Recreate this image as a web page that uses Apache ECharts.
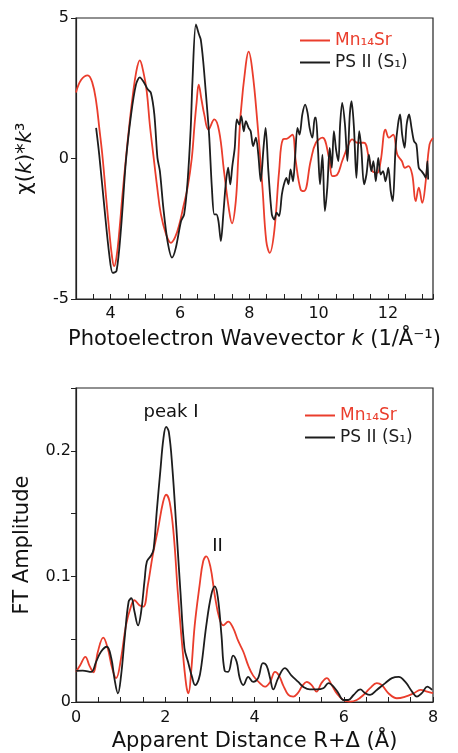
<!DOCTYPE html>
<html lang="en">

<head>
  <meta charset="UTF-8">
  <title>EXAFS Mn14Sr vs PS II</title>
  <style>
    html,body {
      width:100%;
      height:100%;
      margin: 0;
      background: #fff;
    }
  </style>
</head>

<body>
  <div id="chart" style="width:458px;height:753px"></div>
  <script src="https://cdn.jsdelivr.net/npm/echarts@6/dist/echarts.min.js"></script>
  <script>
    // top panel: k^3-weighted EXAFS
    var kRed = [3.00, 3.15, 3.34, 3.47, 3.58, 3.68, 3.77, 3.87, 3.96, 4.03, 4.10, 4.17, 4.25, 4.34, 4.44, 4.54, 4.63, 4.74, 4.84, 4.94,
      5.04, 5.13, 5.23, 5.34, 5.45, 5.60, 5.74, 5.86, 5.98, 6.10, 6.22, 6.34, 6.42, 6.48, 6.54, 6.62, 6.70, 6.82, 6.99, 7.13,
      7.27, 7.42, 7.50, 7.61, 7.68, 7.75, 7.90, 7.98, 8.09, 8.23, 8.38, 8.49, 8.59, 8.72, 8.86, 8.97, 9.10, 9.24, 9.34, 9.48,
      9.58, 9.77, 9.92, 10.11, 10.30, 10.40, 10.54, 10.68, 10.83, 10.97, 11.12, 11.31, 11.45, 11.55, 11.69, 11.79, 11.93, 12.03, 12.15, 12.27,
      12.40, 12.49, 12.59, 12.70, 12.80, 12.89, 12.99, 13.09, 13.20, 13.30];
    var chiRed = [2.35, 2.8, 2.96, 2.7, 2.04, 1.0, 0.0, -1.4, -2.59, -3.4, -3.83, -3.5, -2.59, -1.3, 0.0, 1.2, 2.16, 3.1, 3.49, 3.1,
      2.40, 1.2, 0.14, -1.0, -1.99, -2.7, -3.0, -2.8, -2.35, -1.7, -1.03, 0.0, 1.2, 2.0, 2.63, 2.1, 1.57, 1.03, 1.39, 0.97,
      -0.45, -1.87, -2.31, -1.52, 0.0, 1.57, 3.35, 3.80, 3.11, 1.33, -1.04, -2.94, -3.36, -2.59, -0.45, 0.68, 0.71, 0.85, -0.09, -1.10,
      -1.16, -0.09, 0.56, 0.74, 0.02, -0.63, -0.57, -0.09, 0.39, 0.68, 0.56, 0.56, 0.02, -0.45, -0.51, -0.09, 1.03, 0.74, 0.85, 0.14,
      -0.09, -0.33, -0.27, -0.57, -1.52, -1.04, -1.58, -0.81, 0.50, 0.74];

    var kBlack = [3.58, 3.67, 3.82, 3.96, 4.06, 4.17, 4.30, 4.44, 4.59, 4.73, 4.84, 4.97, 5.07, 5.16, 5.26, 5.35, 5.42, 5.52, 5.64, 5.77,
      5.88, 6.03, 6.12, 6.22, 6.31, 6.36, 6.46, 6.55, 6.60, 6.67, 6.75, 6.84, 6.92, 6.99, 7.05, 7.11, 7.18, 7.25, 7.32, 7.39,
      7.45, 7.51, 7.58, 7.64, 7.71, 7.77, 7.84, 7.90, 7.98, 8.04, 8.11, 8.19, 8.26, 8.33, 8.41, 8.47, 8.55, 8.65, 8.72, 8.79,
      8.86, 8.94, 9.00, 9.07, 9.13, 9.19, 9.26, 9.32, 9.39, 9.45, 9.53, 9.61, 9.68, 9.74, 9.82, 9.89, 9.92, 9.98, 10.04, 10.11,
      10.18, 10.25, 10.32, 10.38, 10.44, 10.51, 10.57, 10.62, 10.68, 10.76, 10.83, 10.90, 10.95, 11.02, 11.09, 11.17, 11.23, 11.31, 11.38, 11.45,
      11.52, 11.58, 11.65, 11.72, 11.79, 11.86, 11.93, 12.01, 12.08, 12.14, 12.22, 12.29, 12.35, 12.41, 12.48, 12.54, 12.61, 12.68, 12.75, 12.82,
      12.89, 12.97, 13.04, 13.09, 13.14, 13.16];
    var chiBlack = [1.09, 0.14, -1.76, -3.42, -4.07, -4.0, -2.47, -0.09, 1.57, 2.63, 2.89, 2.69, 2.46, 2.34, 1.57, 0.02, -0.45, -1.76, -2.94, -3.53,
      -3.18, -2.23, -1.99, -0.81, 1.09, 2.75, 4.77, 4.41, 4.23, 3.46, 2.28, 0.85, -1.04, -1.99, -1.99, -2.23, -2.94, -1.99, -0.92, -0.33,
      -0.92, -0.27, 0.38, 1.39, 1.21, 1.51, 0.97, 1.33, 1.09, 0.97, 0.44, 0.74, 0.14, -0.81, 0.38, 1.09, -0.45, -1.99, -2.17, -1.93,
      -2.05, -1.28, -0.92, -0.69, -0.92, -0.39, -0.81, 0.02, 1.09, 0.85, 1.57, 1.92, 1.63, 1.09, 0.74, 1.45, 1.45, 0.38, -0.92, 0.14,
      -1.87, -1.04, 0.38, -0.33, 0.97, 0.26, -0.09, 1.21, 1.98, 1.21, -0.09, 1.57, 2.04, 1.09, -0.69, 0.97, 0.38, -0.92, -0.57, 0.14,
      -0.45, -0.09, -0.81, 0.02, -0.57, -0.45, -0.81, -0.33, -1.16, -1.52, 0.38, 1.21, 1.57, 0.85, 0.38, 1.21, 1.57, 1.09, 0.62, 0.50,
      -0.33, -0.45, -0.57, -0.69, -0.09, -0.75];

    // bottom panel: Fourier transform
    var rRed = [0.00, 0.09, 0.21, 0.30, 0.39, 0.49, 0.61, 0.71, 0.81, 0.90, 1.01, 1.12, 1.24, 1.31, 1.42, 1.51, 1.61, 1.72, 1.84, 1.95,
      2.02, 2.10, 2.19, 2.28, 2.38, 2.47, 2.52, 2.58, 2.66, 2.77, 2.85, 2.92, 3.01, 3.11, 3.21, 3.30, 3.41, 3.52, 3.63, 3.75,
      3.86, 3.97, 4.12, 4.23, 4.35, 4.46, 4.55, 4.64, 4.76, 4.87, 4.97, 5.06, 5.17, 5.28, 5.39, 5.50, 5.62, 5.73, 5.84, 5.99,
      6.14, 6.29, 6.44, 6.59, 6.74, 6.85, 7.00, 7.19, 7.38, 7.57, 7.72, 7.87, 8.00];
    var ftRed = [0.024, 0.029, 0.036, 0.029, 0.0236, 0.040, 0.0513, 0.043, 0.027, 0.019, 0.035, 0.061, 0.077, 0.081, 0.077, 0.076, 0.093, 0.117, 0.138, 0.159,
      0.165, 0.159, 0.133, 0.088, 0.045, 0.0135, 0.0069, 0.024, 0.061, 0.093, 0.112, 0.116, 0.108, 0.085, 0.067, 0.061, 0.064, 0.059, 0.049, 0.040,
      0.029, 0.021, 0.015, 0.0122, 0.016, 0.024, 0.021, 0.0135, 0.0056, 0.0043, 0.007, 0.0122, 0.016, 0.0135, 0.0083, 0.015, 0.019, 0.0135, 0.007, 0.0016,
      0.0003, 0.0016, 0.0056, 0.011, 0.015, 0.0135, 0.007, 0.003, 0.0043, 0.007, 0.0096, 0.0083, 0.007];

    var rBlack = [0.00, 0.15, 0.34, 0.45, 0.56, 0.69, 0.79, 0.86, 0.94, 1.01, 1.09, 1.18, 1.24, 1.31, 1.39, 1.46, 1.54, 1.59, 1.69, 1.74,
      1.81, 1.89, 1.96, 2.02, 2.08, 2.16, 2.25, 2.34, 2.43, 2.51, 2.60, 2.67, 2.75, 2.81, 2.92, 3.03, 3.11, 3.18, 3.26, 3.33,
      3.41, 3.52, 3.60, 3.67, 3.75, 3.86, 3.97, 4.08, 4.19, 4.27, 4.35, 4.42, 4.53, 4.68, 4.83, 4.98, 5.09, 5.24, 5.39, 5.54,
      5.66, 5.77, 5.88, 5.99, 6.10, 6.22, 6.37, 6.48, 6.59, 6.74, 6.93, 7.08, 7.23, 7.38, 7.53, 7.64, 7.75, 7.87, 7.98];
    var ftBlack = [0.0247, 0.025, 0.024, 0.032, 0.040, 0.044, 0.035, 0.019, 0.0069, 0.021, 0.0508, 0.080, 0.0826, 0.072, 0.061, 0.072, 0.098, 0.112, 0.117, 0.122,
      0.152, 0.184, 0.210, 0.219, 0.215, 0.186, 0.138, 0.088, 0.043, 0.032, 0.020, 0.0135, 0.018, 0.029, 0.061, 0.085, 0.092, 0.083, 0.053, 0.025,
      0.024, 0.037, 0.032, 0.019, 0.0135, 0.020, 0.016, 0.019, 0.031, 0.029, 0.019, 0.010, 0.019, 0.027, 0.021, 0.016, 0.0122, 0.010, 0.010, 0.0109,
      0.015, 0.0122, 0.007, 0.0016, 0.0016, 0.0056, 0.010, 0.007, 0.0056, 0.0096, 0.015, 0.019, 0.020, 0.016, 0.0083, 0.0043, 0.007, 0.0122, 0.0096];

    // peak labels [name, R, amplitude]
    var peakNotes = [['peak I', 2.13, 0.231], ['II', 3.17, 0.124]];

    var RED = '#ea3d2c';
    var BLACK = '#1d1d1d';
    var FONT = 'DejaVu Sans';
    var nameRed = 'Mn₁₄Sr';
    var nameBlack = 'PS II (S₁)';

    function pairs(xs, ys) {
      return xs.map(function (x, i) { return [x, ys[i]]; });
    }
    function evenOnly(v) {
      return Math.abs(v / 2 - Math.round(v / 2)) < 1e-6 ? String(Math.round(v)) : '';
    }
    function tenths(v) {
      if (Math.abs(v) < 1e-9) return '0';
      return Math.abs(v * 10 - Math.round(v * 10)) < 1e-6 ? (Math.round(v * 10) / 10).toString() : '';
    }

    var axisLine = { onZero: false, lineStyle: { color: '#222', width: 1.2 } };
    var nameStyle = {
      fontSize: 21, color: '#111', fontFamily: FONT,
      rich: {
        n: { fontSize: 21, color: '#111', fontFamily: FONT },
        i: { fontSize: 21, color: '#111', fontFamily: FONT, fontStyle: 'italic' }
      }
    };
    var tickLabel = { fontSize: 16, color: '#111', fontFamily: FONT };

    function legendFor(left, top) {
      return {
        orient: 'vertical', left: left, top: top,
        icon: 'rect', itemWidth: 30, itemHeight: 2, itemGap: 5,
        textStyle: { fontSize: 17, fontFamily: FONT },
        data: [
          { name: nameRed, textStyle: { color: RED } },
          { name: nameBlack, textStyle: { color: BLACK } }
        ]
      };
    }

    var myChart = echarts.init(document.getElementById('chart'));
    var option = {
      backgroundColor: '#fff',
      animation: false,
      legend: [legendFor(295, 27), legendFor(300, 402)],
      grid: [
        { left: 76, top: 18, width: 357, height: 281, show: true, borderColor: '#222', borderWidth: 1.2 },
        { left: 76, top: 388, width: 357, height: 314, show: true, borderColor: '#222', borderWidth: 1.2 }
      ],
      xAxis: [{
        type: 'value', gridIndex: 0, min: 3, max: 13.3, interval: 0.5,
        axisLine: axisLine,
        axisTick: { inside: true, length: 5, lineStyle: { color: '#222' } },
        axisLabel: Object.assign({ formatter: evenOnly, margin: 7 }, tickLabel),
        splitLine: { show: false },
        name: '{n|Photoelectron Wavevector }{i|k}{n| (1/Å⁻¹)}',
        nameLocation: 'middle', nameGap: 30, nameTextStyle: nameStyle
      }, {
        type: 'value', gridIndex: 1, min: 0, max: 8, interval: 0.5,
        axisLine: axisLine,
        axisTick: { inside: true, length: 5, lineStyle: { color: '#222' } },
        axisLabel: Object.assign({ formatter: evenOnly, margin: 8 }, tickLabel),
        splitLine: { show: false },
        name: 'Apparent Distance R+Δ (Å)',
        nameLocation: 'middle', nameGap: 29, nameTextStyle: nameStyle
      }],
      yAxis: [{
        type: 'value', gridIndex: 0, min: -5, max: 5, interval: 5,
        axisLine: axisLine,
        axisTick: { length: 5, lineStyle: { color: '#222' } },
        axisLabel: Object.assign({ margin: 7 }, tickLabel),
        splitLine: { show: false },
        name: '{n|χ(}{i|k}{n|)*}{i|k}{n|³}',
        nameLocation: 'middle', nameGap: 40, nameTextStyle: nameStyle
      }, {
        type: 'value', gridIndex: 1, min: 0, max: 0.25, interval: 0.05,
        axisLine: axisLine,
        axisTick: { length: 5, lineStyle: { color: '#222' } },
        axisLabel: Object.assign({ formatter: tenths, margin: 5 }, tickLabel),
        splitLine: { show: false },
        name: 'FT Amplitude',
        nameLocation: 'middle', nameGap: 43, nameTextStyle: nameStyle
      }],
      series: [{
        name: nameRed, type: 'line', xAxisIndex: 0, yAxisIndex: 0,
        data: pairs(kRed, chiRed), showSymbol: false, smooth: 0.4,
        lineStyle: { color: RED, width: 1.8 }, itemStyle: { color: RED }
      }, {
        name: nameBlack, type: 'line', xAxisIndex: 0, yAxisIndex: 0,
        data: pairs(kBlack, chiBlack), showSymbol: false, smooth: 0.3,
        lineStyle: { color: BLACK, width: 1.8 }, itemStyle: { color: BLACK }
      }, {
        name: nameRed, type: 'line', xAxisIndex: 1, yAxisIndex: 1,
        data: pairs(rRed, ftRed), showSymbol: false, smooth: 0.4,
        lineStyle: { color: RED, width: 1.8 }, itemStyle: { color: RED }
      }, {
        name: nameBlack, type: 'line', xAxisIndex: 1, yAxisIndex: 1,
        data: pairs(rBlack, ftBlack), showSymbol: false, smooth: 0.4,
        lineStyle: { color: BLACK, width: 1.8 }, itemStyle: { color: BLACK },
        markPoint: {
          symbol: 'circle', symbolSize: 1,
          itemStyle: { color: 'rgba(0,0,0,0)' },
          label: { show: true, position: 'inside', formatter: '{b}', color: '#111', fontSize: 18, fontFamily: FONT },
          data: peakNotes.map(function (p) { return { name: p[0], coord: [p[1], p[2]] }; })
        }
      }]
    };

    myChart.setOption(option);
  </script>
</body>

</html>
